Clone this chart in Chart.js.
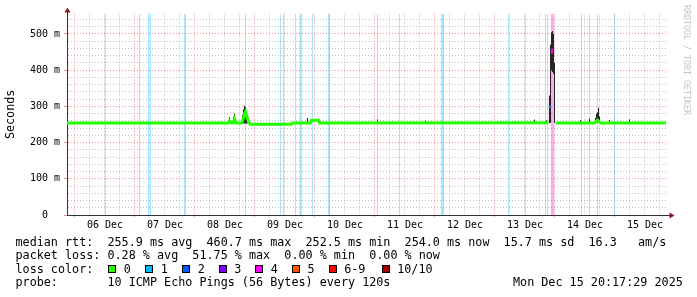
<!DOCTYPE html>
<html>
<head>
<meta charset="utf-8">
<script src="https://cdn.jsdelivr.net/npm/chart.js@4.4.1/dist/chart.umd.min.js"></script>
<style>
html,body{margin:0;padding:0;background:#fff;}
#wrap{position:relative;width:697px;height:297px;overflow:hidden;background:#fff;}
#c{position:absolute;left:0;top:0;}
.t{position:absolute;font-family:"DejaVu Sans Mono",monospace;font-size:11.75px;line-height:14px;white-space:pre;color:#000;}
.sq{position:absolute;width:6px;height:6px;border:1px solid #000;top:265px;}
#wm{position:absolute;left:682px;top:4.5px;width:10px;font-family:"DejaVu Sans Mono",monospace;font-size:8.3px;line-height:10px;color:#c4c4c4;writing-mode:vertical-rl;white-space:pre;}
</style>
</head>
<body>
<div id="wrap">
<canvas id="c" width="697" height="297"></canvas>
<div id="wm">RRDTOOL / TOBI OETIKER</div>
<div class="t" style="left:15.5px;top:234.9px">median rtt:  255.9 ms avg  460.7 ms max  252.5 ms min  254.0 ms now  15.7 ms sd  16.3   am/s</div>
<div class="t" style="left:15.5px;top:248.4px">packet loss: 0.28 % avg  51.75 % max  0.00 % min  0.00 % now</div>
<div class="t" style="left:15.5px;top:261.9px">loss color:</div>
<div id="lossLegend"></div>
<div class="t" style="left:15.5px;top:275.4px">probe:       10 ICMP Echo Pings (56 Bytes) every 120s</div>
<div class="t" style="left:513px;top:275.4px">Mon Dec 15 20:17:29 2025</div>
</div>
<script>
// ---- data (x values are December day numbers, e.g. 8.5 = 08 Dec 12:00) ----
const dayLabels = ['06 Dec','07 Dec','08 Dec','09 Dec','10 Dec','11 Dec','12 Dec','13 Dec','14 Dec','15 Dec'];
const yLabels = ['0','100 m','200 m','300 m','400 m','500 m'];
const lossLevels = ['0','1','2','3','4','5','6-9','10/10'];

// packet loss per 24-min bucket (pings lost out of 10)
const lossTimes = [6.5083,7.075,7.225,7.2583,7.825,7.8417,8.8417,9.425,9.475,9.675,9.7583,9.775,9.9583,
  10.225,10.2417,11.0417,11.4083,12.1083,12.125,12.1417,13.225,13.5083,13.8417,13.875,13.9417,13.9583,13.975,
  14.4417,14.575,14.7083,14.9917];
const lossCounts = [1,1,1,1,1,1,1,1,1,1,1,1,1,
  1,1,1,1,1,1,1,1,1,1,1,4,4,4,
  1,1,1,1];

// smoke (spread of individual pings, ms)
const smokeTimes = [8.575,8.5917,8.6417,8.6583,8.675,8.7917,8.8083,8.825,8.8417,8.8583,8.875,8.8917,
  9.875,11.0417,11.8417,13.6583,13.8583,13.9083,13.925,13.9417,13.9583,13.975,13.9917,
  14.425,14.575,14.675,14.6917,14.7083,14.725,14.7417,14.9083,15.2417];
const smokeLow  = [253,253,253,253,253,253,253,253,253,253,253,253,
  254,254,254,254,254,254,254,400,395,390,254,
  254,254,254,254,254,254,254,254,254];
const smokeHigh = [270,262,272,280,266,276,292,302,298,288,276,264,
  268,264,261,264,262,330,470,505,508,500,420,
  262,266,268,280,284,296,272,262,264];

// median rtt (ms) and the packet loss of that bucket
const medianTimes = [5.8667,8.5583,8.575,8.6083,8.6417,8.6583,8.6917,8.775,8.8083,8.825,8.8417,8.8583,8.875,8.8917,
  8.925,9.6083,9.625,9.925,9.9417,10.0583,10.075,13.8917,13.9083,13.9417,13.9583,14.0083,
  14.6583,14.7083,14.7583,15.85];
const medianValues = [254,254,260,254,254,266,254,254,268,280,286,276,264,257,
  251,251,254,254,262,262,254,255,300,446,460,254,
  254,262,254,254];
const medianLoss = [0,0,0,0,0,0,0,0,0,0,0,0,0,0,
  0,0,0,0,0,0,0,0,1,4,4,0,
  0,0,0,0];

// ---- style ----
const X_MIN = 5.8667, X_MAX = 15.85, Y_MAX = 556;
const lossColors = ['#26ff00','#00b8ff','#0059ff','#7e00ff','#ff00ff','#ff5500','#ff0000','#a10000'];
const lossBg = ['rgba(38,255,0,0.35)','rgba(0,184,255,0.35)','rgba(0,89,255,0.35)','rgba(126,0,255,0.35)',
  'rgba(255,0,255,0.35)','rgba(255,85,0,0.35)','rgba(255,0,0,0.35)','rgba(161,0,0,0.35)'];
const MAJOR = 'rgba(215,0,0,0.42)', MINOR = 'rgba(128,128,128,0.5)';
const FONT = 'DejaVu Sans Mono';
function lossIndex(n){ return n >= 10 ? 7 : (n >= 6 ? 6 : n); }

// loss colour legend (HTML)
(function(){
  const host = document.getElementById('lossLegend');
  const sqX = [108,145,182,218.5,255,291.8,328.5,381.5];
  lossLevels.forEach((lab,i) => {
    const s = document.createElement('div');
    s.className = 'sq'; s.style.left = sqX[i] + 'px'; s.style.background = lossColors[i];
    host.appendChild(s);
    const t = document.createElement('div');
    t.className = 't'; t.style.left = (sqX[i] + 15.7) + 'px'; t.style.top = '261.9px'; t.textContent = lab;
    host.appendChild(t);
  });
})();

// ---- datasets ----
const lossSet = {
  type:'bar', yAxisID:'yl', order:3,
  data: lossTimes.map(t => ({x:t, y:1})),
  backgroundColor: ctx => lossBg[lossIndex(lossCounts[ctx.dataIndex])],
  barThickness:1, grouped:false, borderWidth:0, inflateAmount:0
};
const smokeSet = {
  type:'bar', yAxisID:'y', order:2,
  data: smokeTimes.map((t,i) => ({x:t, y:[smokeLow[i], smokeHigh[i]]})),
  backgroundColor:'#262626',
  barThickness:1, grouped:false, borderWidth:0, inflateAmount:0
};
const levels = [...new Set(medianLoss)];
const medianSets = levels.map(L => {
  const col = lossColors[lossIndex(L)];
  const data = medianTimes.map((t,i) => ({x:t, y: medianLoss[i] === L ? medianValues[i] : null}));
  const isolated = i => data[i].y != null && (!data[i-1] || data[i-1].y == null) && (!data[i+1] || data[i+1].y == null);
  return {
    type:'line', yAxisID:'y', order:1, data,
    borderColor: col, borderWidth: L === 0 ? 3 : 2, tension:0, spanGaps:false, borderCapStyle:'butt',
    pointStyle:'rect', pointBorderWidth:0, pointBackgroundColor: col,
    pointRadius: ctx => isolated(ctx.dataIndex) ? 1.42 : 0
  };
});

const arrows = {
  id:'arrows',
  afterDraw(chart){
    const {ctx, chartArea:a} = chart;
    ctx.save();
    ctx.strokeStyle = '#333'; ctx.lineWidth = 1;
    ctx.beginPath();
    ctx.moveTo(a.left + 0.5, a.top + 1); ctx.lineTo(a.left + 0.5, 11);
    ctx.moveTo(a.right - 1, a.bottom + 0.5); ctx.lineTo(670, a.bottom + 0.5);
    ctx.stroke();
    ctx.fillStyle = '#8a1c1c';
    ctx.beginPath();
    ctx.moveTo(a.left + 0.5, 7.5); ctx.lineTo(a.left - 2.5, 12.5); ctx.lineTo(a.left + 3.5, 12.5);
    ctx.closePath(); ctx.fill();
    ctx.beginPath();
    ctx.moveTo(674.5, a.bottom + 0.5); ctx.lineTo(669.5, a.bottom - 2.5); ctx.lineTo(669.5, a.bottom + 3.5);
    ctx.closePath(); ctx.fill();
    ctx.restore();
  }
};

new Chart(document.getElementById('c'), {
  type:'line',
  data:{ datasets:[lossSet, smokeSet, ...medianSets] },
  plugins:[arrows],
  options:{
    responsive:false, animation:false, devicePixelRatio:1, events:[],
    layout:{ padding:{left:0, top:13.7, right:31, bottom:62} },
    plugins:{ legend:{display:false}, tooltip:{enabled:false} },
    scales:{
      x:{
        type:'linear', min:X_MIN, max:X_MAX, offset:false,
        afterFit: s => { s.height = 20; },
        ticks:{
          stepSize:0.25, includeBounds:false, autoSkip:false, maxRotation:0, minRotation:0, padding:2,
          color:'#000', font:{family:FONT, size:10},
          callback: v => (v % 1 === 0.5) ? (dayLabels[Math.floor(v) - 6] || '') : ''
        },
        grid:{
          offset:false, lineWidth:1, drawTicks:true, tickLength:2,
          color: c => (c.tick && c.tick.value % 1 === 0) ? MAJOR : MINOR,
          tickColor: c => (c.tick && c.tick.value % 1 === 0) ? MAJOR : 'rgba(0,0,0,0)'
        },
        border:{ display:true, color:'#333', width:1, dash:[1,2] }
      },
      y:{
        type:'linear', min:0, max:Y_MAX,
        afterFit: s => { s.width = 67; },
        ticks:{
          stepSize:20, includeBounds:false, autoSkip:false, padding:4,
          color:'#000', font:{family:FONT, size:10},
          callback: v => (v % 100 === 0) ? (yLabels[v / 100] || '').padEnd(3) : ''
        },
        grid:{
          lineWidth:1, drawTicks:true, tickLength:3,
          color: c => (c.tick && c.tick.value % 100 === 0) ? MAJOR : MINOR,
          tickColor: c => (c.tick && c.tick.value % 100 === 0) ? MAJOR : 'rgba(0,0,0,0)'
        },
        border:{ display:true, color:'#333', width:1, dash:[1,2] },
        title:{ display:true, text:'Seconds', color:'#000', font:{family:FONT, size:11.75}, padding:{top:3.5, bottom:0} }
      },
      yl:{ type:'linear', display:false, min:0, max:1 }
    }
  }
});
</script>
</body>
</html>
